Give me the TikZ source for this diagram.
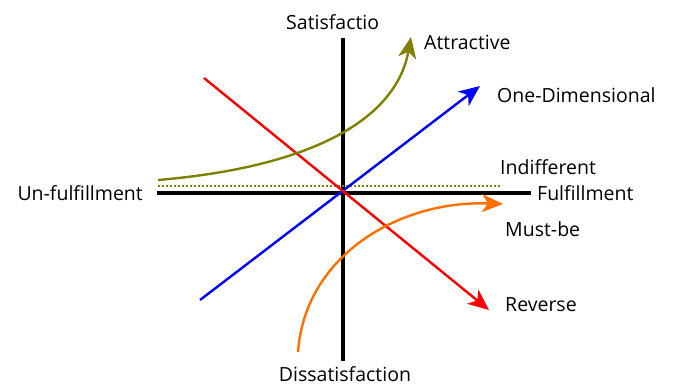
\documentclass[tikz,border=0pt]{standalone}
\usepackage{fontspec}
\setmainfont{Open Sans}
\usetikzlibrary{positioning,arrows.meta}
\definecolor{attcol}{RGB}{128,128,0}
\definecolor{mustcol}{RGB}{255,112,0}

\begin{document}
\begin{tikzpicture}[x=1pt,y=-1pt,font=\fontsize{19.5}{23}\selectfont,
   axis/.style={line width=3.6pt,black},
   curve/.style={line width=2.4pt,-{Stealth[length=21pt,width=18pt,inset=6pt]}},
   lbl/.style={inner sep=0pt},
]
\useasboundingbox (0,0) rectangle (674,387);

% ----- axes
\coordinate (ytop) at (343,38);
\coordinate (ybot) at (343,361);
\coordinate (xleft) at (157,193);
\coordinate (xright) at (531,193);
\draw[axis] (ybot) -- (ytop);
\draw[axis] (xleft) -- (xright);

\node[lbl,anchor=east] (unful) at (143,193) {Un-fulfillment};
\node[lbl,anchor=west] (ful) at (537,193) {Fulfillment};
\node[lbl,anchor=west] (sat) at (286,22) {Satisfactio};
\node[lbl] (dissat) at (345,374) {Dissatisfaction};

% ----- curves
\coordinate (att0) at (158,180);
\coordinate (att1) at (411,37);
\coordinate (one0) at (200,300);
\coordinate (one1) at (480,86);
\coordinate (rev0) at (204,78);
\coordinate (rev1) at (489,310);
\coordinate (must0) at (298,352);
\coordinate (must1) at (503,204);
\coordinate (ind0) at (158,186);
\coordinate (ind1) at (500,186);

\draw[attcol,line width=2pt,dotted] (ind0) -- (ind1);
\draw[curve,blue] (one0) -- (one1);
\draw[curve,red] (rev0) -- (rev1);
\draw[curve,attcol] (att0) .. controls (300,168) and (395,125) .. (att1);
\draw[curve,mustcol] (must0) .. controls (305,255) and (400,200) .. (must1);

\node[lbl,anchor=west] (attr) at (424,42) {Attractive};
\node[lbl,anchor=west] (oned) at (497,95) {One-Dimensional};
\node[lbl,anchor=west] (indif) at (500,167) {Indifferent};
\node[lbl,anchor=west] (must) at (505,229) {Must-be};
\node[lbl,anchor=west] (revs) at (505,305) {Reverse};
\end{tikzpicture}
\end{document}
